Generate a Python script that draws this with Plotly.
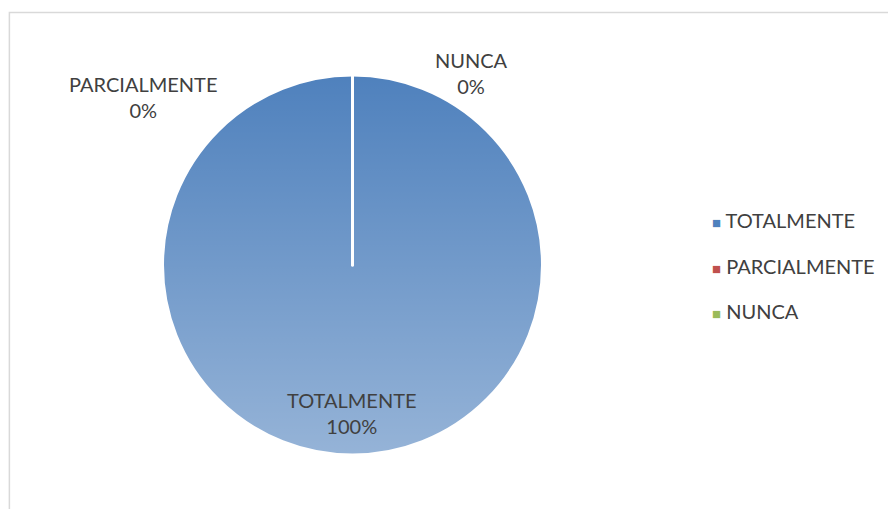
import base64
import plotly.graph_objects as go

# Datos
etiquetas = ['TOTALMENTE', 'PARCIALMENTE', 'NUNCA']
valores = [100, 0, 0]
colores = ['#4f81bd', '#c0504d', '#9bbb59']

TXT = '#404040'
FUENTE = 'Lato'
W, H = 896, 509
OFF = 8  # margen del body de la página html

# dominio del pie (centro ~ 352,265 px, radio ~190 px)
cx, cy, r = 352.5 - OFF, 265 - OFF, 190
dom_x = [(cx - r) / W, (cx + r) / W]
dom_y = [(H - cy - r) / H, (H - cy + r) / H]

total = sum(valores)
porcentajes = [f'{round(v * 100 / total)}%' for v in valores]

fig = go.Figure(go.Pie(
    labels=etiquetas,
    values=valores,
    sort=False,
    direction='clockwise',
    rotation=0,
    marker=dict(colors=colores, line=dict(color='white', width=3)),
    textinfo='none',
    hoverinfo='label+percent',
    domain=dict(x=dom_x, y=dom_y),
    showlegend=False,
))

# degradado suave (tipo Excel) encima del pie
svg = ('<svg xmlns="http://www.w3.org/2000/svg" width="100" height="100" preserveAspectRatio="none">'
       '<defs><linearGradient id="g" x1="0" y1="0" x2="0" y2="1">'
       '<stop offset="0" stop-color="white" stop-opacity="0.0"/>'
       '<stop offset="1" stop-color="white" stop-opacity="0.4"/>'
       '</linearGradient></defs><rect width="100" height="100" fill="url(#g)"/></svg>')
fig.add_layout_image(
    source='data:image/svg+xml;base64,' + base64.b64encode(svg.encode()).decode(),
    xref='paper', yref='paper', x=dom_x[0], y=dom_y[1],
    sizex=dom_x[1] - dom_x[0], sizey=dom_y[1] - dom_y[0],
    xanchor='left', yanchor='top', sizing='stretch', layer='above',
)

# etiquetas de datos (posiciones en px)
pos_etiquetas = [(352, 413), (143, 97), (471, 73)]
for lab, pct, (px, py) in zip(etiquetas, porcentajes, pos_etiquetas):
    fig.add_annotation(
        x=(px - OFF) / W, y=1 - (py - OFF) / H, xref='paper', yref='paper',
        text=f'{lab}<br>{pct}', showarrow=False,
        font=dict(family=FUENTE, size=20, color=TXT),
        align='center', xanchor='center', yanchor='middle',
    )

# leyenda manual
leg_y = [220, 266, 311]
for lab, col, ly in zip(etiquetas, colores, leg_y):
    fig.add_annotation(
        x=(710 - OFF) / W, y=1 - (ly - OFF) / H, xref='paper', yref='paper',
        text=f'<span style="color:{col};font-size:15px">■</span> {lab}',
        showarrow=False, xanchor='left', yanchor='middle',
        font=dict(family=FUENTE, size=20, color=TXT),
    )

# borde del área del gráfico
fig.add_shape(type='rect', xref='paper', yref='paper',
              x0=(8.5 - OFF) / W + 0.001, x1=1.05, y0=-0.05, y1=1 - (12.5 - OFF) / H,
              line=dict(color='#d9d9d9', width=1.5), fillcolor='rgba(0,0,0,0)',
              layer='below')

fig.update_layout(
    width=W, height=H,
    margin=dict(l=0, r=0, t=0, b=0),
    paper_bgcolor='white',
    plot_bgcolor='white',
    font=dict(family=FUENTE, color=TXT),
)

fig.write_html('out.html')
